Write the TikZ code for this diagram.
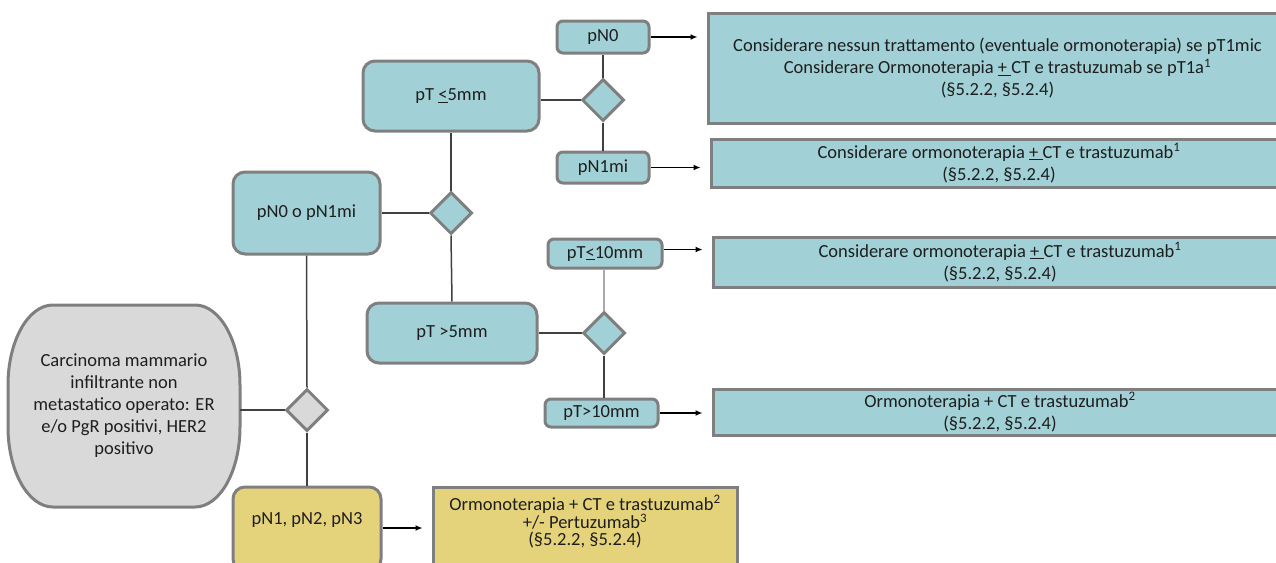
\documentclass[tikz,border=0pt]{standalone}
\usepackage{fontspec}
\setmainfont{Carlito}
\usetikzlibrary{shapes.geometric,arrows.meta}
\definecolor{teal1}{RGB}{161,209,214}
\definecolor{bord}{RGB}{127,127,127}
\definecolor{grayfill}{RGB}{217,217,217}
\definecolor{yel}{RGB}{229,211,124}
\definecolor{txt}{RGB}{30,30,30}
\definecolor{conn}{RGB}{64,64,64}
\definecolor{connlight}{RGB}{170,170,170}
\tikzset{
  base/.style={draw=bord, line width=3pt, text=txt, inner sep=0pt,
    font=\fontsize{18.5}{22}\selectfont, align=center},
  tbox/.style={base, fill=teal1, rounded corners=12pt},
  sbox/.style={base, fill=teal1, rounded corners=6pt},
  gshape/.style={draw=bord, line width=3pt, fill=grayfill},
  ybox/.style={base, fill=yel, rounded corners=12pt},
  rbox/.style={base, fill=teal1},
  yrbox/.style={base, fill=yel},
  dia/.style={base, diamond, fill=teal1, minimum width=42pt, minimum height=42pt},
  gdia/.style={dia, fill=grayfill},
  txtnode/.style={text=txt, inner sep=0pt, align=center, font=\fontsize{18.5}{22}\selectfont},
  conline/.style={draw=conn, line width=1.5pt},
  arr/.style={draw=black, line width=1.3pt, -{Latex[length=7pt,width=6pt]}, shorten >=9pt},
}
\newcommand{\upl}{\underline{+\ }}
\begin{document}
\begin{tikzpicture}[x=1pt,y=-1pt]
\useasboundingbox (0,0) rectangle (1276,562);
\clip (0,0) rectangle (1276,562);
% gray start shape (elliptical corners)
\draw[gshape] (53,305) -- (195,305)
  .. controls (219.8,305) and (240,340.8) .. (240,385) -- (240,427)
  .. controls (240,471.2) and (219.8,507) .. (195,507) -- (53,507)
  .. controls (28.2,507) and (8,471.2) .. (8,427) -- (8,385)
  .. controls (8,340.8) and (28.2,305) .. (53,305) -- cycle;
\node[txtnode, minimum width=232pt, minimum height=202pt] (g) at (124,406) {Carcinoma mammario\\infiltrante non\\metastatico operato: ER\\e/o PgR positivi, HER2\\positivo};
% main nodes
\node[gdia] (d1) at (307,410) {};
\node[tbox, minimum width=147pt, minimum height=82pt] (a) at (306.5,213) {pN0 o pN1mi};
\node[ybox, minimum width=148pt, minimum height=84pt] (b) at (307,529) {};
\node[txtnode] (bt) at (307,520) {pN1, pN2, pN3};
\node[yrbox, minimum width=304pt, minimum height=84pt] (y) at (585,529) {};
\node[txtnode, font=\fontsize{18.5}{17}\selectfont] (yt) at (585,522) {Ormonoterapia + CT e trastuzumab\textsuperscript{2}\\+/- Pertuzumab\textsuperscript{3}\\(§5.2.2, §5.2.4)};
\node[dia] (d2) at (451,213) {};
\node[tbox, minimum width=176pt, minimum height=70pt] (c) at (451,96) {pT \underline{<}5mm};
\node[tbox, minimum width=170pt, minimum height=60pt] (e) at (452,333) {pT >5mm};
\node[dia] (d3) at (603,100) {};
\node[sbox, minimum width=92pt, minimum height=32pt] (f) at (603,37) {pN0};
\node[sbox, minimum width=92pt, minimum height=31pt] (h) at (603,167.5) {pN1mi};
\node[dia] (d4) at (604,333) {};
\node[sbox, minimum width=114pt, minimum height=29pt] (k) at (605,253.5) {pT\underline{<}10mm};
\node[sbox, minimum width=113pt, minimum height=28pt] (m) at (601.5,413) {pT>10mm};
% result boxes
\node[rbox, minimum width=579pt, minimum height=110pt] (r1) at (997.5,68) {Considerare nessun trattamento (eventuale ormonoterapia) se pT1mic\\Considerare Ormonoterapia \upl CT e trastuzumab se pT1a\textsuperscript{1}\\(§5.2.2, §5.2.4)};
\node[rbox, minimum width=576pt, minimum height=48pt] (r2) at (999,163) {Considerare ormonoterapia \upl CT e trastuzumab\textsuperscript{1}\\(§5.2.2, §5.2.4)};
\node[rbox, minimum width=574pt, minimum height=50pt] (r3) at (1000,262) {Considerare ormonoterapia \upl CT e trastuzumab\textsuperscript{1}\\(§5.2.2, §5.2.4)};
\node[rbox, minimum width=574pt, minimum height=46pt] (r4) at (1000,412) {Ormonoterapia + CT e trastuzumab\textsuperscript{2}\\(§5.2.2, §5.2.4)};
% connectors
\draw[conline] (d1.west -| g.east) -- (d1.west);
\draw[conline] (d1.north) -- (a.south);
\draw[conline] (d1.south) -- (b.north);
\draw[conline] (a.east) -- (d2.west);
\draw[conline] (d2.north) -- (c.south);
\draw[conline] (d2.south) -- (e.north);
\draw[conline] (d3.west -| c.east) -- (d3.west);
\draw[conline] (d3.north) -- (f.south);
\draw[conline] (d3.south) -- (h.north);
\draw[conline] (e.east) -- (d4.west);
\draw[conline, draw=connlight] (d4.north) -- (d4.north |- k.south);
\draw[conline] (d4.south) -- (d4.south |- m.north);
% arrows
\draw[arr] (f.east) -- (f.east -| r1.west);
\draw[arr] (h.east) -- (h.east -| r2.west);
\draw[arr] ([yshift=4pt]k.east) -- ([yshift=4pt]k.east -| r3.west);
\draw[arr] (m.east) -- (m.east -| r4.west);
\draw[arr] (b.east |- 0,528) -- (y.west |- 0,528);
\end{tikzpicture}
\end{document}
